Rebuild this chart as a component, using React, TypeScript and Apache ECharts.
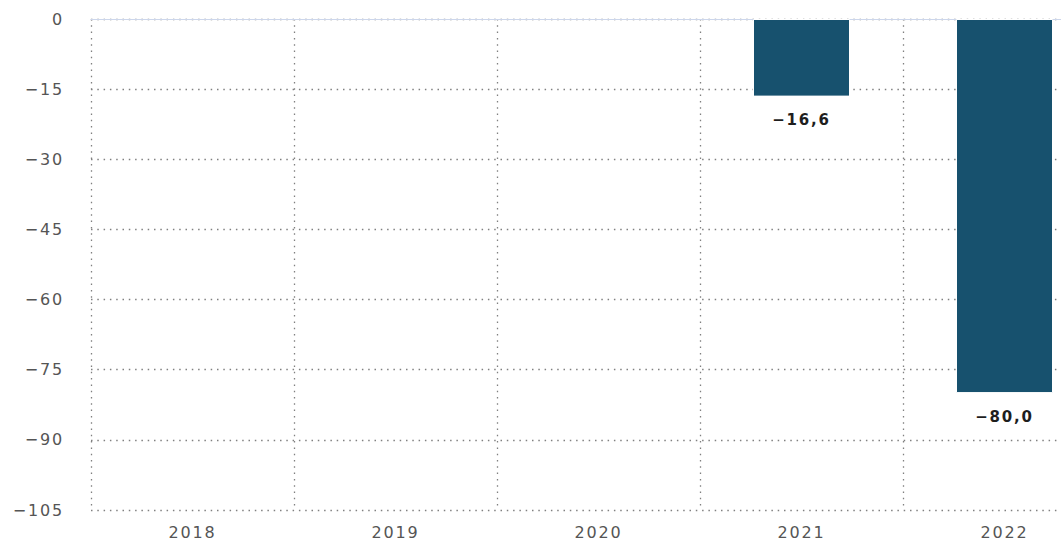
import React, { useEffect, useRef } from "react";
import * as echarts from "echarts";

const categories: string[] = ["2018", "2019", "2020", "2021", "2022"];
const values: (number | null)[] = [null, null, null, -16.6, -80.0];
const yMin = -105;
const yMax = 0;
const yInterval = 15;

const fmt = (v: number, digits: number) =>
  v.toFixed(digits).replace("-", "\u2212").replace(".", ",");

export default function App() {
  const ref = useRef<HTMLDivElement>(null);
  useEffect(() => {
    if (!ref.current) return;
    const chart = echarts.init(ref.current, undefined, { renderer: "svg" });
    const dotted = { color: "#808080", width: 1.3, type: [1.5, 4.8] as number[] };
    chart.setOption({
      animation: false,
      textStyle: { fontFamily: "DejaVu Sans" },
      grid: { left: 91, top: 19, right: 4, bottom: 35, containLabel: false },
      xAxis: {
        type: "category",
        data: categories,
        boundaryGap: true,
        axisLine: { show: true, lineStyle: { color: "#ccd6eb", width: 1 } },
        axisTick: { show: false },
        axisLabel: { color: "#555555", fontSize: 16, margin: 14, fontFamily: "DejaVu Sans" },
        splitLine: { show: true, lineStyle: dotted },
      },
      yAxis: {
        type: "value",
        min: yMin,
        max: yMax,
        interval: yInterval,
        axisLine: { show: false },
        axisTick: { show: false },
        axisLabel: {
          color: "#555555",
          fontSize: 16,
          margin: 27,
          fontFamily: "DejaVu Sans",
          formatter: (v: number) => fmt(v, 0),
        },
        splitLine: { show: true, lineStyle: dotted },
      },
      series: [
        {
          type: "bar",
          data: values,
          barWidth: 97,
          itemStyle: { color: "#17516e", borderColor: "#ffffff", borderWidth: 1 },
          label: {
            show: true,
            position: "bottom",
            distance: 16,
            color: "#1e1e1e",
            fontWeight: "bold",
            fontSize: 15,
            fontFamily: "DejaVu Sans",
            formatter: (p: any) => (p.value == null ? "" : fmt(p.value, 1)),
          },
        },
      ],
    });
    return () => chart.dispose();
  }, []);
  return (
    <>
      <style>{`.chartbox text { letter-spacing: 1.8px; }`}</style>
      <div
        style={{ position: "fixed", left: 0, top: 0, width: 1061, height: 545, overflow: "hidden", background: "#fff" }}
      >
        <div ref={ref} className="chartbox" style={{ width: 1110, height: 545 }} />
      </div>
    </>
  );
}
